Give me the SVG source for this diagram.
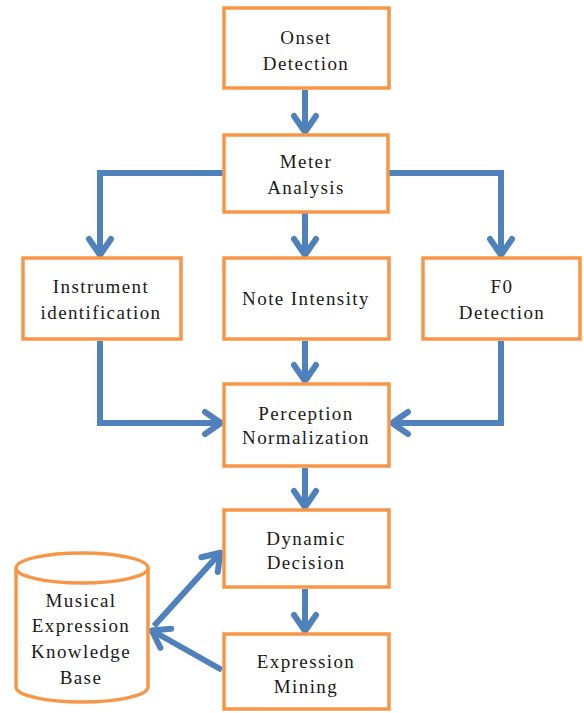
<svg xmlns="http://www.w3.org/2000/svg" width="584" height="713" viewBox="0 0 584 713">
<style>
.box{fill:#fff;stroke:#F79646;stroke-width:3.5}
.c{fill:none;stroke:#4F81BD;stroke-width:6}
</style>
<defs>
<marker id="ah" markerUnits="userSpaceOnUse" viewBox="-24 -16 30 32" markerWidth="30" markerHeight="32" refX="0" refY="0" orient="auto" overflow="visible">
<path d="M-17,-11 L-1,0 L-17,11" fill="none" stroke="#4F81BD" stroke-width="6" stroke-linejoin="round" stroke-linecap="round"/>
</marker>
</defs>
<rect width="584" height="713" fill="#fff"/>
<g id="connectors">
<path class="c" d="M305,90 V133" marker-end="url(#ah)"/>
<path class="c" d="M224,173 H100 V256" marker-end="url(#ah)"/>
<path class="c" d="M389,173 H501 V256" marker-end="url(#ah)"/>
<path class="c" d="M305,213 V256" marker-end="url(#ah)"/>
<path class="c" d="M100,341 V423 H222" marker-end="url(#ah)"/>
<path class="c" d="M501,341 V423 H391" marker-end="url(#ah)"/>
<path class="c" d="M305,341 V382" marker-end="url(#ah)"/>
<path class="c" d="M305,468 V508" marker-end="url(#ah)"/>
<path class="c" d="M305,589 V632" marker-end="url(#ah)"/>
<path class="c" d="M154,626 L221,552" marker-end="url(#ah)"/>
<path class="c" d="M222,670 L151,630" marker-end="url(#ah)"/>
</g>
<g font-family="Liberation Serif, Times New Roman, serif" font-size="19" fill="#1a1a1a" text-anchor="middle" letter-spacing="1.4">
<g id="onset">
<rect class="box" x="224" y="8" width="165" height="80"/>
<text x="306" y="44">Onset</text>
<text x="306" y="70">Detection</text>
</g>
<g id="meter">
<rect class="box" x="224" y="135" width="164" height="77"/>
<text x="306" y="168">Meter</text>
<text x="306" y="194">Analysis</text>
</g>
<g id="instrument">
<rect class="box" x="23" y="258" width="158" height="81"/>
<text x="101" y="293">Instrument</text>
<text x="101" y="319">identification</text>
</g>
<g id="note">
<rect class="box" x="224" y="258" width="165" height="81"/>
<text x="306" y="305">Note Intensity</text>
</g>
<g id="f0">
<rect class="box" x="423" y="258" width="157" height="81"/>
<text x="502" y="293">F0</text>
<text x="502" y="319">Detection</text>
</g>
<g id="perception">
<rect class="box" x="224" y="384" width="165" height="82"/>
<text x="306" y="420">Perception</text>
<text x="306" y="444">Normalization</text>
</g>
<g id="dynamic">
<rect class="box" x="224" y="510" width="165" height="77"/>
<text x="306" y="545">Dynamic</text>
<text x="306" y="569">Decision</text>
</g>
<g id="mining">
<rect class="box" x="224" y="634" width="165" height="75"/>
<text x="306" y="668">Expression</text>
<text x="306" y="693">Mining</text>
</g>
<g id="knowledge">
<path class="box" d="M16,568 V687 A66,15 0 0 0 148,687 V568"/>
<ellipse class="box" cx="82" cy="568" rx="66" ry="15"/>
<text x="81" y="607">Musical</text>
<text x="81" y="632">Expression</text>
<text x="81" y="658">Knowledge</text>
<text x="81" y="684">Base</text>
</g>
</g>
</svg>
